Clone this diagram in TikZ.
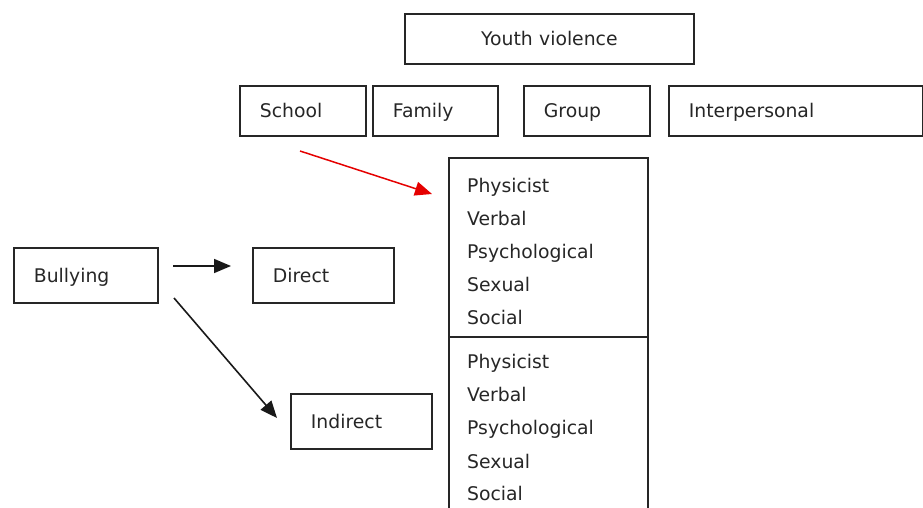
\documentclass[tikz,border=0pt]{standalone}
\usepackage{fontspec}
\setmainfont{DejaVu Sans}
\usetikzlibrary{arrows.meta,calc}
\newcommand{\fs}{\fontsize{18.8pt}{22pt}\selectfont}
\begin{document}
\begin{tikzpicture}[x=1pt,y=-1pt,
  box/.style={draw=black!85, line width=1.8pt, inner xsep=20pt, inner ysep=0pt,
    text height=16pt, text depth=2pt,
    align=left, anchor=north west, font=\fs, text=black!85},
  itemtxt/.style={anchor=base west, inner sep=0pt, font=\fs, text=black!85},
  conn/.style={line width=1.6pt, black!90, -{Triangle[length=17pt,width=14pt]}},
  redconn/.style={line width=1.5pt, red!90!black, -{Triangle[length=17pt,width=14pt]}}]
\useasboundingbox (0,0) rectangle (923,508);
% top row
\node[box, align=center, inner xsep=0pt, text width=289pt, minimum height=50pt] (yv) at (404,13) {Youth violence};
\node[box, text width=86pt, minimum height=50pt] (school) at (239,85) {School};
\node[box, text width=85pt, minimum height=50pt] (family) at (372,85) {Family};
\node[box, text width=86pt, minimum height=50pt] (group) at (523,85) {Group};
\node[box, text width=214pt, minimum height=50pt] (inter) at (668,85) {Interpersonal};
% left part
\node[box, text width=104pt, minimum height=55pt] (bul) at (13,247) {Bullying};
\node[box, text width=101pt, minimum height=55pt] (dir) at (252,247) {Direct};
\node[box, text width=101pt, minimum height=55pt] (ind) at (290,393) {Indirect};
% list box
\node[draw=black!85, line width=1.8pt, anchor=north west, minimum width=199pt, minimum height=370pt, inner sep=0pt] (list) at (448,157) {};
\coordinate (divl) at (448,337);
\coordinate (divr) at (647,337);
\draw[line width=1.8pt, black!85] (divl) -- (divr);
\foreach \t/\y [count=\i] in {Physicist/192,Verbal/225,Psychological/258,Sexual/291,Social/324,Physicist/368,Verbal/401,Psychological/434,Sexual/468,Social/500}
  \node[itemtxt] (it\i) at (467,\y) {\t};
% connectors
\coordinate (a1s) at (173,266);
\coordinate (a1e) at (231,266);
\coordinate (a2s) at (174,298);
\coordinate (a2e) at (277,418);
\coordinate (rs) at (300,151);
\coordinate (re) at (432,194);
\draw[conn] (a1s) -- (a1e);
\draw[conn] (a2s) -- (a2e);
\draw[redconn] (rs) -- (re);
\end{tikzpicture}
\end{document}
